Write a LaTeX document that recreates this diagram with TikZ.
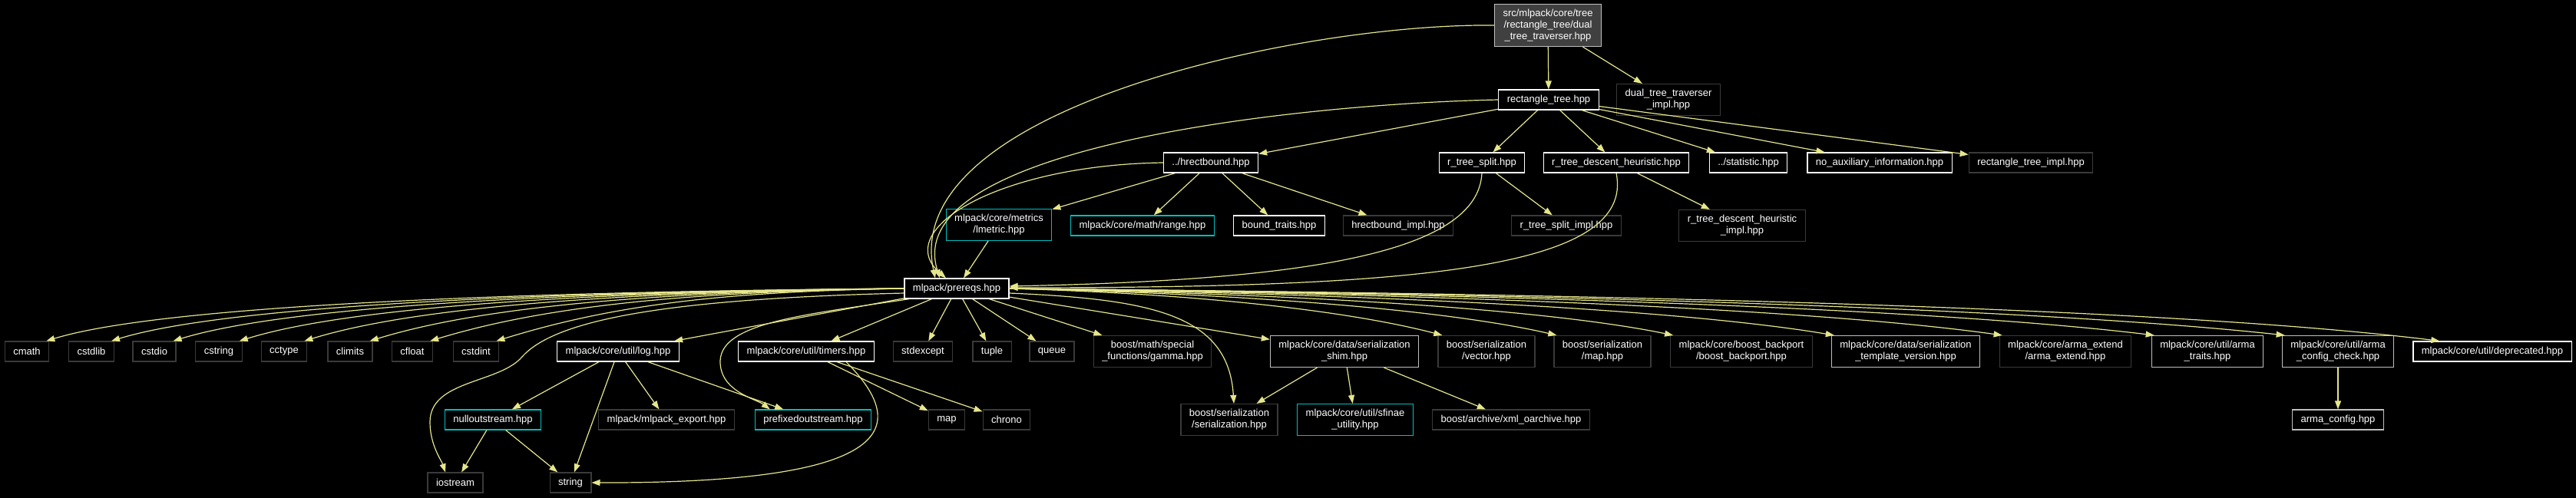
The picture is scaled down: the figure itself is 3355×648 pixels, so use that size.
\documentclass[tikz,border=0pt]{standalone}
\usepackage{fontspec}
\setmainfont{Liberation Sans}
\usepackage{xcolor}
\usepackage{tikz}
\usetikzlibrary{arrows.meta}
\definecolor{DoxBack}{RGB}{0,0,0}
\definecolor{DoxEdge}{RGB}{230,230,140}
\definecolor{DoxFrame}{RGB}{255,255,255}
\definecolor{DoxPale}{RGB}{191,191,191}
\definecolor{DoxDark}{RGB}{58,58,58}
\definecolor{DoxRoot}{RGB}{64,64,64}
\definecolor{DoxCyan}{RGB}{0,191,191}

\begin{document}
\begin{tikzpicture}[x=1pt,y=-1pt,
  hdr/.style={draw=DoxFrame, line width=1.2pt, fill=DoxBack, text=white, align=center,
    inner xsep=11pt, inner ysep=4pt, minimum height=26pt, font=\fontsize{13}{15}\selectfont},
  ext/.style={hdr, draw=DoxDark},
  cut/.style={hdr, draw=DoxCyan},
  pale/.style={hdr, draw=DoxPale},
  tall/.style={minimum height=41pt},
  inc/.style={draw=DoxEdge, line width=1.2pt, -{Triangle[length=11pt,width=8pt]}}]
  \path[use as bounding box] (0,0) rectangle (3355,648);
  \fill[DoxBack] (-3,-3) rectangle (3358,651);

  % top levels
  \node[pale, fill=DoxRoot, minimum height=55pt] (root) at (2016,33) {src/mlpack/core/tree\\/rectangle\_tree/dual\\\_tree\_traverser.hpp};
  \node[hdr] (rtree) at (2017,130) {rectangle\_tree.hpp};
  \node[ext, tall] (dtimpl) at (2173,130) {dual\_tree\_traverser\\\_impl.hpp};
  \node[hdr] (hrect) at (1577,212) {../hrectbound.hpp};
  \node[hdr] (rsplit) at (1930,212) {r\_tree\_split.hpp};
  \node[hdr] (rdesc) at (2105,212) {r\_tree\_descent\_heuristic.hpp};
  \node[hdr] (stat) at (2277,212) {../statistic.hpp};
  \node[hdr] (noaux) at (2448,212) {no\_auxiliary\_information.hpp};
  \node[ext] (rtimpl) at (2645,212) {rectangle\_tree\_impl.hpp};
  \node[cut, tall] (lmetric) at (1301,293) {mlpack/core/metrics\\/lmetric.hpp};
  \node[cut] (range) at (1488,294) {mlpack/core/math/range.hpp};
  \node[hdr] (btraits) at (1666,294) {bound\_traits.hpp};
  \node[ext] (hrimpl) at (1821,294) {hrectbound\_impl.hpp};
  \node[ext] (rsimpl) at (2040,294) {r\_tree\_split\_impl.hpp};
  \node[ext, tall] (rdimpl) at (2269,294) {r\_tree\_descent\_heuristic\\\_impl.hpp};
  \node[hdr] (prereqs) at (1246,376) {mlpack/prereqs.hpp};

  % includes of prereqs
  \node[ext] (cmath) at (35,458) {cmath};
  \node[ext] (cstdlib) at (119,458) {cstdlib};
  \node[ext] (cstdio) at (201,458) {cstdio};
  \node[ext] (cstring) at (285,458) {cstring};
  \node[ext] (cctype) at (370,458) {cctype};
  \node[ext] (climits) at (456,458) {climits};
  \node[ext] (cfloat) at (537,458) {cfloat};
  \node[ext] (cstdint) at (620,458) {cstdint};
  \node[hdr] (log) at (805,458) {mlpack/core/util/log.hpp};
  \node[hdr] (timers) at (1050,458) {mlpack/core/util/timers.hpp};
  \node[ext] (stdexcept) at (1202,458) {stdexcept};
  \node[ext] (tuple) at (1292,458) {tuple};
  \node[ext] (queue) at (1370,458) {queue};
  \node[ext, tall] (gamma) at (1501,458) {boost/math/special\\\_functions/gamma.hpp};
  \node[pale, tall] (shim) at (1751,458) {mlpack/core/data/serialization\\\_shim.hpp};
  \node[ext, tall] (vector) at (1936,458) {boost/serialization\\/vector.hpp};
  \node[ext, tall] (maphpp) at (2087,458) {boost/serialization\\/map.hpp};
  \node[ext, tall] (backport) at (2268,458) {mlpack/core/boost\_backport\\/boost\_backport.hpp};
  \node[pale, tall] (tmplver) at (2482,458) {mlpack/core/data/serialization\\\_template\_version.hpp};
  \node[ext, tall] (armaext) at (2690,458) {mlpack/core/arma\_extend\\/arma\_extend.hpp};
  \node[pale, tall] (armatraits) at (2875,458) {mlpack/core/util/arma\\\_traits.hpp};
  \node[pale, tall] (armacheck) at (3045,458) {mlpack/core/util/arma\\\_config\_check.hpp};
  \node[hdr] (deprecated) at (3246,458) {mlpack/core/util/deprecated.hpp};

  % lowest levels
  \node[cut] (nullout) at (642,547) {nulloutstream.hpp};
  \node[ext] (export) at (868,547) {mlpack/mlpack\_export.hpp};
  \node[cut] (prefixed) at (1059,547) {prefixedoutstream.hpp};
  \node[ext] (map) at (1233,547) {map};
  \node[ext] (chrono) at (1311,547) {chrono};
  \node[ext, tall] (serial) at (1601,547) {boost/serialization\\/serialization.hpp};
  \node[cut, tall] (sfinae) at (1765,547) {mlpack/core/util/sfinae\\\_utility.hpp};
  \node[ext] (xmlo) at (1968,547) {boost/archive/xml\_oarchive.hpp};
  \node[pale] (armaconfig) at (3045,547) {arma\_config.hpp};
  \node[ext] (iostream) at (593,629) {iostream};
  \node[ext] (string) at (743,629) {string};

  % edges from the upper part
  \draw[inc] (root) -- (rtree);
  \draw[inc] (root) -- (dtimpl);
  \draw[inc] (root.west) .. controls (1700,30) and (1170,140) .. ([xshift=-28pt]prereqs.north);
  \draw[inc] (rtree.west) .. controls (1700,135) and (1170,190) .. ([xshift=-22pt]prereqs.north);
  \draw[inc] (rtree) -- (hrect);
  \draw[inc] (rtree) -- (rsplit);
  \draw[inc] (rtree) -- (rdesc);
  \draw[inc] (rtree) -- (stat);
  \draw[inc] (rtree) -- (noaux);
  \draw[inc] (rtree) -- (rtimpl);
  \draw[inc] (hrect.west) .. controls (1300,215) and (1160,300) .. ([xshift=-14pt]prereqs.north);
  \draw[inc] (hrect) -- (lmetric);
  \draw[inc] (hrect) -- (range);
  \draw[inc] (hrect) -- (btraits);
  \draw[inc] (hrect) -- (hrimpl);
  \draw[inc] (lmetric) -- (prereqs);
  \draw[inc] (rsplit) -- (rsimpl);
  \draw[inc] (rsplit.south) .. controls (1925,330) and (1700,365) .. ([yshift=3pt]prereqs.east);
  \draw[inc] (rdesc) -- (rdimpl);
  \draw[inc] (rdesc.south) .. controls (2130,350) and (1850,375) .. ([yshift=1pt]prereqs.east);

  % prereqs to the left
  \draw[inc] (prereqs.west) .. controls (675,380) and (211,398) .. ([xshift=-4pt]cmath.north east);
  \draw[inc] (prereqs.west) .. controls (713,380) and (295,398) .. ([xshift=-4pt]cstdlib.north east);
  \draw[inc] (prereqs.west) .. controls (750,380) and (376,398) .. ([xshift=-4pt]cstdio.north east);
  \draw[inc] (prereqs.west) .. controls (788,380) and (461,398) .. ([xshift=-4pt]cstring.north east);
  \draw[inc] (prereqs.west) .. controls (826,380) and (546,398) .. ([xshift=-4pt]cctype.north east);
  \draw[inc] (prereqs.west) .. controls (865,380) and (632,398) .. ([xshift=-4pt]climits.north east);
  \draw[inc] (prereqs.west) .. controls (901,380) and (712,398) .. ([xshift=-4pt]cfloat.north east);
  \draw[inc] (prereqs.west) .. controls (939,380) and (796,398) .. ([xshift=-4pt]cstdint.north east);
  \draw[inc] ([yshift=-6pt]prereqs.west) .. controls (850,390) and (720,420) .. (680,465)
    .. controls (650,500) and (560,495) .. (560,550) .. controls (560,580) and (575,600) .. ([xshift=-13pt]iostream.north);
  \draw[inc] (prereqs) -- (log);
  \draw[inc] ([xshift=7pt]prereqs.south west) .. controls (1050,410) and (940,420) .. (938,470)
    .. controls (937,510) and (985,520) .. ([xshift=20pt]prefixed.north west);
  \draw[inc] (prereqs) -- (timers);
  \draw[inc] (prereqs) -- (stdexcept);
  \draw[inc] (prereqs) -- (tuple);
  \draw[inc] (prereqs) -- (queue);
  \draw[inc] (prereqs) -- (gamma);
  \draw[inc] (prereqs) -- (shim);
  \draw[inc] ([yshift=-6pt]prereqs.east) .. controls (1500,390) and (1600,410) .. ([xshift=6pt]serial.north);

  % prereqs to the right
  \draw[inc] (prereqs.east) .. controls (1628,385) and (1795,415) .. ([xshift=6pt]vector.north west);
  \draw[inc] (prereqs.east) .. controls (1707,385) and (1920,412) .. ([xshift=4pt]maphpp.north west);
  \draw[inc] (prereqs.east) .. controls (1790,385) and (2049,410) .. ([xshift=4pt]backport.north west);
  \draw[inc] (prereqs.east) .. controls (1906,385) and (2228,410) .. ([xshift=4pt]tmplver.north west);
  \draw[inc] (prereqs.east) .. controls (2027,385) and (2415,410) .. ([xshift=4pt]armaext.north west);
  \draw[inc] (prereqs.east) .. controls (2135,385) and (2582,410) .. ([xshift=4pt]armatraits.north west);
  \draw[inc] (prereqs.east) .. controls (2229,385) and (2727,410) .. ([xshift=4pt]armacheck.north west);
  \draw[inc] (prereqs.east) .. controls (2340,385) and (2900,410) .. ([xshift=35pt]deprecated.north west);

  % lower edges
  \draw[inc] (log) -- (nullout);
  \draw[inc] (log) -- (string);
  \draw[inc] (log) -- (export);
  \draw[inc] (log) -- (prefixed);
  \draw[inc] (timers) -- (map);
  \draw[inc] (timers) -- (chrono);
  \draw[inc] ([xshift=52pt]timers.south) .. controls (1190,560) and (1160,630) .. (string.east);
  \draw[inc] (nullout) -- (iostream);
  \draw[inc] (nullout) -- (string);
  \draw[inc] (shim) -- (serial);
  \draw[inc] (shim) -- (sfinae);
  \draw[inc] (shim) -- (xmlo);
  \draw[inc] (armacheck) -- (armaconfig);
\end{tikzpicture}
\end{document}
